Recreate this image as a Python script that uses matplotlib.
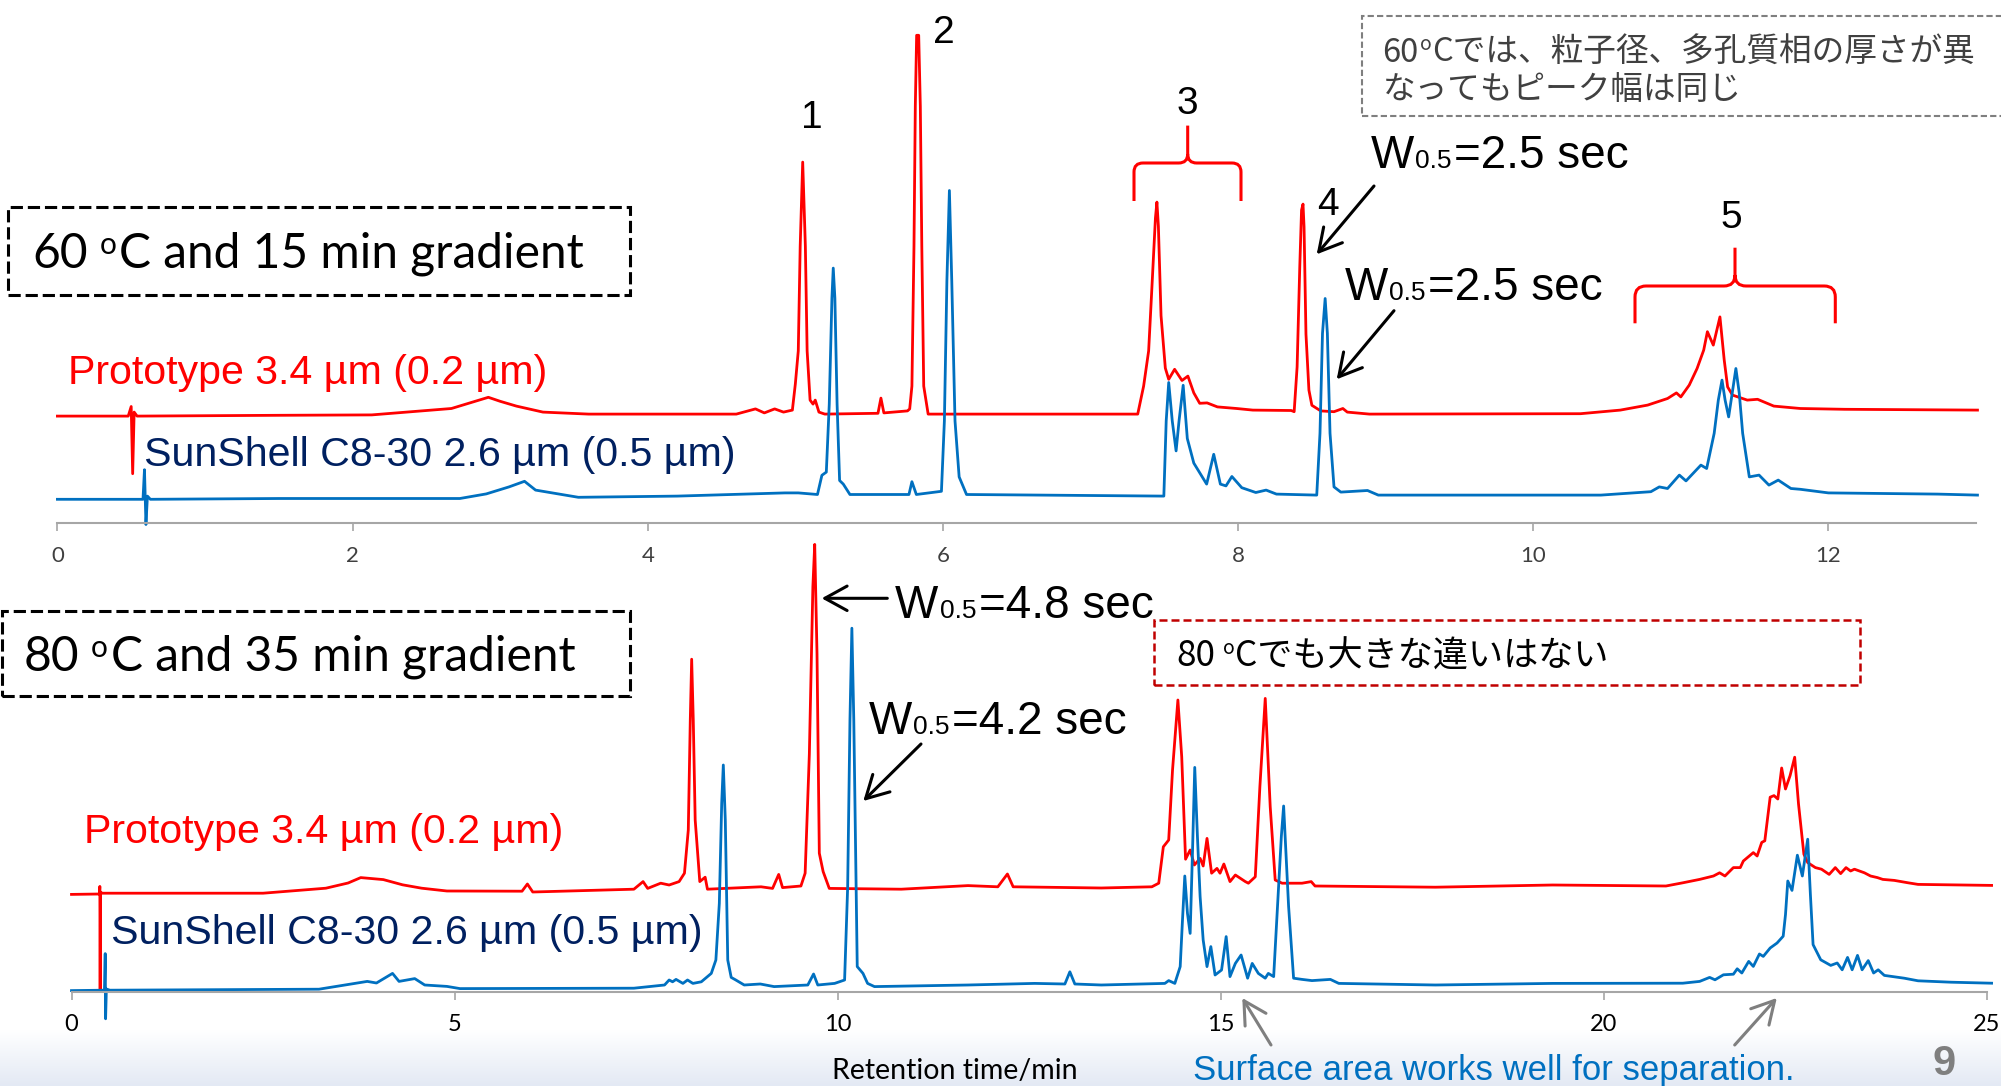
import numpy as np
import matplotlib
matplotlib.use("Agg")
import matplotlib.pyplot as plt
from matplotlib.patches import Rectangle, FancyArrowPatch, PathPatch
from matplotlib.path import Path
from matplotlib.colors import LinearSegmentedColormap

# chromatograms: (retention time / min, signal above its own baseline / a.u.)
# 60 C, 15 min gradient
top_red = [(0.00, -0.5), (0.48, -0.5), (0.50, 1.9), (0.51, -14.9), (0.52, 0.5), (0.54, -0.5),
           (1.50, -0.3), (2.13, -0.2), (2.67, 1.4), (2.92, 4.2), (3.00, 3.2), (3.11, 2.0), (3.29, 0.5), (3.60, 0.0),
           (4.60, 0.0), (4.73, 1.3), (4.79, 0.3), (4.86, 1.3), (4.92, 0.5), (4.98, 1.0), (5.00, 7.5), (5.02, 15.8),
           (5.033, 42), (5.05, 63), (5.068, 42), (5.08, 15.8), (5.10, 3.5), (5.12, 2.5), (5.135, 3.5), (5.16, 0.5),
           (5.20, 0.0), (5.56, 0.2), (5.58, 4.0), (5.60, 0.3), (5.76, 0.8), (5.775, 1.3), (5.79, 7), (5.804, 42),
           (5.813, 77), (5.822, 94.7), (5.836, 94.7), (5.847, 77), (5.857, 42), (5.87, 7), (5.90, 0.0),
           (7.32, 0.0), (7.36, 7), (7.394, 15.8), (7.418, 33), (7.44, 49), (7.45, 53), (7.46, 47), (7.478, 24.6),
           (7.507, 11.5), (7.53, 8.7), (7.57, 11.2), (7.62, 8.4), (7.66, 9.5), (7.70, 5.3), (7.74, 2.7), (7.79, 2.8),
           (7.86, 1.8), (7.99, 1.4), (8.10, 1.0), (8.36, 0.9), (8.38, 0.6), (8.40, 11.8), (8.418, 36.8), (8.43, 51),
           (8.44, 52.5), (8.447, 46.8), (8.46, 20), (8.48, 6), (8.50, 2.2), (8.56, 0.8), (8.65, 0.6), (8.71, 1.4),
           (8.74, 0.5), (8.89, 0.0), (10.32, 0.1), (10.59, 1.0), (10.775, 2.25), (10.91, 3.9), (10.97, 5.3),
           (11.00, 4.3), (11.057, 7.25), (11.11, 11.4), (11.155, 16), (11.18, 20.6), (11.22, 17.25), (11.265, 24.3),
           (11.294, 13.5), (11.317, 6.8), (11.35, 4.75), (11.45, 3.5), (11.52, 3.7), (11.63, 2.0), (11.81, 1.4),
           (12.11, 1.2), (13.01, 1.0)]
top_blue = [(0.00, -0.8), (0.58, -0.8), (0.59, 6.6), (0.60, -7.1), (0.61, 0.0), (0.63, -0.8),
            (1.50, -0.6), (2.727, -0.6), (2.906, 0.55), (3.06, 2.3), (3.165, 3.7), (3.24, 1.5), (3.425, 0.35),
            (3.53, -0.3), (4.20, 0.0), (4.93, 0.8), (5.02, 0.8), (5.15, 0.4), (5.18, 5.2), (5.21, 6.0), (5.23, 23),
            (5.248, 49.5), (5.257, 57), (5.268, 49.5), (5.283, 23), (5.30, 3.9), (5.325, 3.0), (5.37, 0.4),
            (5.77, 0.4), (5.79, 3.6), (5.82, 0.4), (5.99, 1.2), (6.01, 18.8), (6.027, 53.8), (6.044, 76.4),
            (6.06, 53.8), (6.082, 18.8), (6.11, 4.8), (6.16, 0.4), (7.497, 0.0), (7.513, 18.8), (7.53, 28.4),
            (7.554, 18.8), (7.58, 11.3), (7.60, 18.8), (7.628, 27.7), (7.656, 14.4), (7.70, 8.25), (7.787, 3.0),
            (7.835, 10.45), (7.88, 3.0), (7.918, 2.55), (7.958, 4.9), (8.025, 2.1), (8.12, 0.9), (8.19, 1.5),
            (8.26, 0.5), (8.533, 0.25), (8.555, 15.7), (8.572, 40.7), (8.59, 49.4), (8.605, 40.7), (8.623, 15.7),
            (8.65, 2.3), (8.696, 1.0), (8.877, 1.4), (8.95, 0.25), (10.458, 0.25), (10.797, 1.1), (10.854, 2.3),
            (10.91, 1.9), (10.99, 5.25), (11.035, 3.8), (11.136, 7.75), (11.175, 6.9), (11.226, 15.7), (11.254, 24),
            (11.279, 29), (11.30, 24), (11.324, 19.8), (11.348, 25.7), (11.373, 31.9), (11.396, 25.7),
            (11.419, 15.7), (11.464, 4.8), (11.53, 5.25), (11.597, 2.75), (11.66, 4.0), (11.746, 1.9), (11.81, 1.7),
            (12.00, 0.8), (12.74, 0.5), (13.01, 0.25)]
# 80 C, 35 min gradient
bot_red = [(0.00, -1.1), (0.365, -1.0), (0.370, 0.9), (0.374, -25.2), (0.378, -0.5), (0.40, -0.8), (2.50, -0.8),
           (3.32, 0.45), (3.61, 1.75), (3.775, 3.1), (4.07, 2.6), (4.32, 1.3), (4.57, 0.45), (4.90, -0.25),
           (5.88, -0.3), (5.95, 1.5), (6.02, -0.5), (7.34, 0.2), (7.46, 2.1), (7.52, 0.4), (7.69, 1.7), (7.80, 1.25),
           (7.93, 2.1), (8.00, 4.2), (8.05, 15), (8.076, 42.5), (8.094, 57.7), (8.115, 42.5), (8.14, 17.5),
           (8.20, 2.1), (8.27, 3.2), (8.30, 0.2), (9.00, 0.8), (9.15, 0.4), (9.23, 3.9), (9.28, 0.6), (9.52, 1.0),
           (9.575, 4.2), (9.63, 34), (9.676, 75.8), (9.70, 86.4), (9.73, 59), (9.76, 9.2), (9.81, 4.6), (9.89, 0.4),
           (10.83, 0.2), (11.70, 1.1), (12.09, 0.8), (12.215, 4.0), (12.29, 0.8), (13.44, 0.5), (14.10, 0.8),
           (14.19, 1.7), (14.25, 10.8), (14.32, 12.5), (14.37, 30), (14.44, 47.5), (14.49, 33.3), (14.54, 7.7),
           (14.60, 10), (14.655, 6.25), (14.73, 7.9), (14.77, 6.0), (14.82, 12.9), (14.88, 4.2), (14.95, 5.4),
           (14.99, 4.2), (15.04, 6.5), (15.12, 2.1), (15.19, 3.75), (15.32, 2.1), (15.36, 1.7), (15.45, 3.3),
           (15.51, 25.8), (15.58, 47.9), (15.645, 20.8), (15.71, 2.5), (15.80, 1.7), (16.06, 1.7), (16.18, 2.1),
           (16.23, 1.0), (17.80, 0.7), (19.33, 1.25), (20.81, 1.0), (21.03, 1.8), (21.25, 2.65), (21.43, 3.5),
           (21.51, 4.3), (21.58, 3.5), (21.69, 5.6), (21.78, 5.6), (21.82, 7.25), (21.95, 9.35), (22.00, 8.5),
           (22.06, 11.9), (22.10, 12.3), (22.17, 23.2), (22.22, 23.6), (22.27, 22.75), (22.32, 30.5), (22.37, 25.25),
           (22.43, 28.6), (22.49, 33.2), (22.54, 21.5), (22.61, 8.95), (22.66, 6.85), (22.76, 5.6), (22.84, 5.2),
           (22.94, 3.9), (23.02, 5.6), (23.09, 4.1), (23.16, 5.6), (23.22, 4.75), (23.27, 5.2), (23.40, 4.3),
           (23.48, 3.5), (23.57, 3.1), (23.64, 2.65), (23.79, 2.4), (23.97, 1.8), (24.10, 1.4), (25.06, 1.15)]
bot_blue = [(0.00, -0.9), (0.43, -0.8), (0.44, 8.35), (0.445, -7.95), (0.455, -0.5), (0.50, -0.8), (2.50, -0.6),
            (3.23, -0.55), (3.86, 1.4), (3.98, 1.0), (4.19, 3.4), (4.275, 1.4), (4.48, 2.1), (4.61, 0.5),
            (4.90, 0.15), (5.07, -0.4), (7.34, -0.3), (7.74, 0.5), (7.80, 1.75), (7.845, 1.3), (7.89, 1.9),
            (7.98, 0.9), (8.04, 1.75), (8.11, 0.9), (8.22, 1.3), (8.35, 3.4), (8.41, 6.75), (8.455, 20.9),
            (8.486, 45.9), (8.507, 55.5), (8.533, 41.75), (8.565, 6.75), (8.61, 2.4), (8.67, 1.75), (8.78, 0.5),
            (8.99, 0.75), (9.17, 0.1), (9.61, 0.5), (9.685, 3.25), (9.74, 0.5), (9.96, 0.9), (10.09, 1.75),
            (10.13, 25), (10.16, 66.75), (10.185, 89.7), (10.21, 66.75), (10.24, 25), (10.255, 5.1), (10.33, 3.4),
            (10.39, 0.9), (10.48, 0.1), (11.70, 0.5), (12.57, 0.9), (12.965, 0.75), (13.03, 3.8), (13.095, 0.75),
            (13.44, 0.5), (14.27, 0.9), (14.32, 1.6), (14.40, 0.9), (14.47, 5.1), (14.50, 16.75), (14.53, 27.75),
            (14.565, 18.4), (14.60, 13.4), (14.63, 33.4), (14.66, 54.9), (14.695, 37.6), (14.73, 22.6),
            (14.77, 11.75), (14.82, 5.1), (14.87, 10.1), (14.925, 3.0), (15.01, 4.25), (15.07, 12.6), (15.12, 2.6),
            (15.19, 5.9), (15.265, 8.0), (15.35, 2.2), (15.41, 5.9), (15.49, 3.4), (15.58, 2.2), (15.62, 3.4),
            (15.69, 2.6), (15.75, 23.4), (15.79, 37.6), (15.82, 45.25), (15.85, 33.4), (15.885, 20.1), (15.95, 2.2),
            (16.06, 1.9), (16.19, 1.6), (16.32, 1.75), (16.43, 1.9), (16.54, 0.9), (17.80, 0.5), (19.33, 0.9),
            (21.03, 0.95), (21.25, 1.4), (21.38, 2.4), (21.45, 1.8), (21.56, 3.05), (21.69, 3.2), (21.74, 4.55),
            (21.80, 3.5), (21.89, 6.4), (21.95, 5.15), (22.03, 8.25), (22.08, 7.65), (22.17, 9.75), (22.26, 11.0),
            (22.34, 12.7), (22.37, 18.1), (22.40, 26.5), (22.455, 24.15), (22.525, 32.95), (22.59, 27.75),
            (22.66, 36.95), (22.695, 23.15), (22.73, 10.6), (22.83, 6.8), (22.96, 5.4), (23.045, 6.0), (23.11, 4.3),
            (23.18, 7.4), (23.24, 4.3), (23.31, 7.9), (23.37, 4.3), (23.45, 6.6), (23.52, 3.5), (23.58, 4.3),
            (23.66, 2.9), (23.92, 2.2), (24.10, 1.55), (24.53, 1.2), (25.06, 0.95)]

top_ticks = [0, 2, 4, 6, 8, 10, 12]
bot_ticks = [0, 5, 10, 15, 20, 25]
red_label = "Prototype 3.4 µm (0.2 µm)"
blue_label = "SunShell C8-30 2.6 µm (0.5 µm)"

RED, BLUE, NAVY = '#FF0000', '#0070C0', '#002060'
CJK = ['Noto Sans CJK JP', 'DejaVu Sans']

plt.rcParams['font.family'] = ['Liberation Sans', 'DejaVu Sans']
W, H = 2001, 1086
fig = plt.figure(figsize=(W / 100, H / 100), dpi=100)


def fx(x):
    return x / W


def fy(y):
    return 1 - y / H


# slide footer shading
fax = fig.add_axes([0, 0, 1, 56 / H], zorder=-5)
fax.imshow(np.linspace(0, 1, 64).reshape(-1, 1), aspect='auto', origin='lower', extent=[0, 1, 0, 1],
           cmap=LinearSegmentedColormap.from_list('foot', ['#E3E9F4', '#FFFFFF']))
fax.axis('off')

ax1 = fig.add_axes([fx(57.4), fy(523.3), (1976 - 57.4) / W, 523.3 / H])
ax2 = fig.add_axes([fx(71.5), fy(992), (1987 - 71.5) / W, (992 - 480) / H])
for ax, xmax, ticks, lc, ls in [(ax1, 13, top_ticks, '#404040', 16), (ax2, 25, bot_ticks, 'black', 17)]:
    ax.set_xlim(0, xmax)
    ax.set_facecolor('none')
    for s in ['left', 'right', 'top']:
        ax.spines[s].set_visible(False)
    ax.spines['bottom'].set_color('#A6A6A6')
    ax.spines['bottom'].set_linewidth(1.5)
    ax.set_yticks([])
    ax.set_xticks(ticks)
    ax.tick_params(axis='x', direction='out', length=6, width=1.2, color='#A6A6A6', pad=10,
                   labelsize=ls, labelcolor=lc)
    for lab in ax.get_xticklabels():
        lab.set_fontfamily('Lato')
ax1.set_ylim(0, 523.3 / 4)
ax2.set_ylim(0, 512 / 4)


def trace(ax, pts, offset, color):
    a = np.array(pts)
    ax.plot(a[:, 0], a[:, 1] + offset, color=color, lw=2.0, clip_on=False, solid_joinstyle='round')


trace(ax1, top_red, 27.3, RED)
trace(ax1, top_blue, 6.8, BLUE)
trace(ax2, bot_red, 25.5, RED)
trace(ax2, bot_blue, 1.25, BLUE)

renderer = fig.canvas.get_renderer()


def runs(x, y, parts, **kw):
    for s, size, rise, gap in parts:
        t = fig.text(fx(x), fy(y - rise), s, fontsize=size, ha='left', va='baseline', **kw)
        x += t.get_window_extent(renderer).width + gap


def box(x0, y0, x1, y1, color, lw, dash):
    fig.add_artist(Rectangle((fx(x0), fy(y1)), (x1 - x0) / W, (y1 - y0) / H, transform=fig.transFigure,
                             fill=False, edgecolor=color, lw=lw, linestyle=(0, dash)))


def arrow(x0, y0, x1, y1, color):
    fig.add_artist(FancyArrowPatch((fx(x0), fy(y0)), (fx(x1), fy(y1)), transform=fig.transFigure,
                                   arrowstyle='->,head_length=1.0,head_width=0.55', mutation_scale=16,
                                   color=color, lw=2.2, shrinkA=0, shrinkB=0))


def bracket(x0, x1, xc, yh, yb, yt, r=9):
    P = lambda x, y: (fx(x), fy(y))
    verts = [P(x0, yb), P(x0, yh + r), P(x0, yh), P(x0 + r, yh), P(xc - r, yh), P(xc, yh), P(xc, yh - r),
             P(xc, yt), P(x1, yb), P(x1, yh + r), P(x1, yh), P(x1 - r, yh), P(xc + r, yh), P(xc, yh),
             P(xc, yh - r)]
    M, L, C = Path.MOVETO, Path.LINETO, Path.CURVE3
    codes = [M, L, C, C, L, C, C, L, M, L, C, C, L, C, C]
    fig.add_artist(PathPatch(Path(verts, codes), transform=fig.transFigure, fill=False,
                             edgecolor=RED, lw=2.2))


# condition boxes
box(7.7, 207, 629.5, 294.6, 'black', 2.2, (4, 1.6))
runs(31.9, 268, [('60', 34.5, 0, 12), ('o', 21.5, 14, 3), ('C and 15 min gradient', 34.5, 0, 0)],
     family='Lato', color='black')
box(2, 611.3, 629.5, 695.5, 'black', 2.2, (4, 1.6))
runs(23.7, 670.6, [('80', 34.5, 0, 12), ('o', 21.5, 14, 3), ('C and 35 min gradient', 34.5, 0, 0)],
     family='Lato', color='black')

# trace labels
fig.text(fx(67.5), fy(383.6), red_label, color=RED, fontsize=29.6, va='baseline')
fig.text(fx(144), fy(465.9), blue_label, color=NAVY, fontsize=29.6, va='baseline')
fig.text(fx(84), fy(842.8), red_label, color=RED, fontsize=29.6, va='baseline')
fig.text(fx(111), fy(944), blue_label, color=NAVY, fontsize=29.6, va='baseline')

# peak numbers and brackets
for num, x, y in [('1', 811.4, 128), ('2', 944, 42.8), ('3', 1187.4, 114), ('4', 1327.7, 215), ('5', 1731.7, 228.3)]:
    fig.text(fx(x), fy(y), num, fontsize=28, ha='center', va='baseline', color='black')
bracket(1134, 1241, 1187.7, 163, 201, 125.6)
bracket(1635, 1835.3, 1735, 286, 323.3, 247.7, r=11)

# half-width annotations
for x, y, val in [(1370.7, 168.3, '=2.5 sec'), (1344.3, 300, '=2.5 sec'),
                  (895, 618.3, '=4.8 sec'), (868.3, 734.3, '=4.2 sec')]:
    runs(x, y, [('W', 33, 0, 1.5), ('0.5', 19, 0, 2.5), (val, 33, 0, 0)], color='black')
arrow(1374, 186, 1316.7, 254.3, 'black')
arrow(1394, 310.7, 1336.7, 379.3, 'black')
arrow(887.3, 598.3, 821.7, 598.3, 'black')
arrow(921, 744, 863.3, 801, 'black')

# comment boxes
box(1361.6, 16, 2010, 116, '#7F7F7F', 1.5, (3, 1.5))
runs(1382.6, 61.5, [('60', 23.5, 0, 1), ('o', 14, 11, 1), ('Cでは、粒子径、多孔質相の厚さが異', 23.5, 0, 0)],
     family=CJK, color='#404040')
fig.text(fx(1382.6), fy(98.5), 'なってもピーク幅は同じ', family=CJK, color='#404040', fontsize=23.5, va='baseline')
box(1154.3, 620, 1859.7, 684.5, '#C00000', 1.8, (3.2, 1.6))
runs(1176.7, 666.5, [('80', 25.3, 0, 7), ('o', 14, 13, 1), ('Cでも大きな違いはない', 25.3, 0, 0)],
     family=CJK, color='black')

# bottom texts
fig.text(fx(955), fy(1071), 'Retention time/min', family='Lato', fontsize=20.5, ha='center', va='center')
fig.text(fx(1193), fy(1080), 'Surface area works well for separation.', color=BLUE, fontsize=25, va='baseline')
arrow(1271, 1045, 1242.3, 998, '#7F7F7F')
arrow(1734.7, 1045, 1776.8, 998, '#7F7F7F')
fig.text(fx(1932), fy(1084), '9', color='#7F7F7F', fontsize=30, fontweight='bold', va='bottom')

fig.savefig('out.png', dpi=100)
